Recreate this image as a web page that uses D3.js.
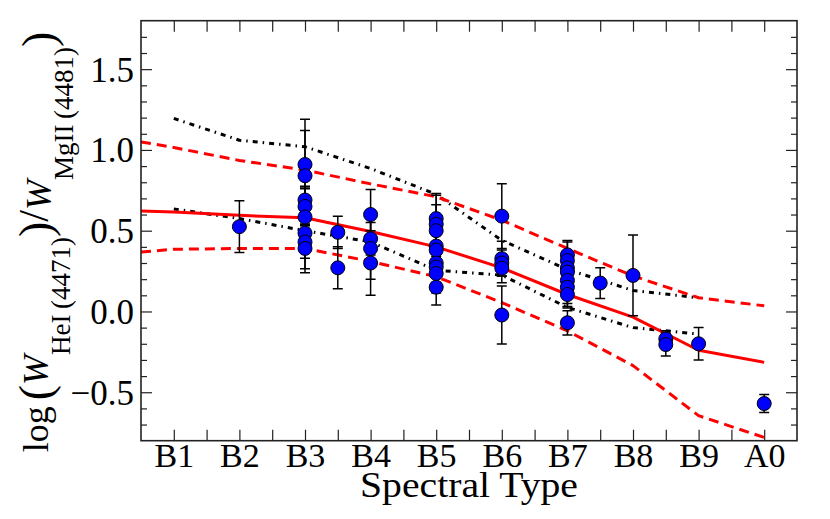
<!DOCTYPE html>
<html>
<head>
<meta charset="utf-8">
<script src="https://cdn.jsdelivr.net/npm/d3@7"></script>
<style>
  body { margin: 0; background: #fff; }
  svg text { font-family: "Liberation Serif", "DejaVu Serif", serif; fill: #000; }
</style>
</head>
<body>
<div id="chart"></div>
<script>
// spectral type axis: B1 = 1 ... A0 = 10
const typeTicks = [1, 2, 3, 4, 5, 6, 7, 8, 9, 10];
const typeLabels = ["B1", "B2", "B3", "B4", "B5", "B6", "B7", "B8", "B9", "A0"];
const logTicks = [-0.5, 0, 0.5, 1, 1.5];

// measured stars (type, log ratio, error)
const starType = [2,
  3, 3, 3, 3, 3, 3, 3, 3,
  3.5, 3.5,
  4, 4, 4, 4,
  5, 5, 5, 5, 5, 5, 5, 5, 5,
  6, 6, 6, 6, 6,
  7, 7, 7, 7, 7, 7, 7, 7,
  7.5, 8, 8.5, 8.5, 9, 10];
const starLog = [0.525,
  0.91, 0.84, 0.69, 0.65, 0.585, 0.485, 0.43, 0.39,
  0.49, 0.27,
  0.60, 0.45, 0.39, 0.30,
  0.575, 0.54, 0.50, 0.405, 0.38, 0.30, 0.275, 0.235, 0.15,
  0.59, 0.327, 0.30, 0.268, -0.022,
  0.35, 0.315, 0.27, 0.244, 0.192, 0.15, 0.105, -0.07,
  0.176, 0.223, -0.17, -0.205, -0.20, -0.57];
const starErr = [0.16,
  0.28, 0.28, 0.08, 0.11, 0.19, 0.22, 0.10, 0.15,
  0.10, 0.13,
  0.155, 0.10, 0.19, 0.20,
  0.155, 0.18, 0.16, 0.10, 0.12, 0.12, 0.10, 0.12, 0.11,
  0.20, 0.107, 0.08, 0.09, 0.18,
  0.09, 0.115, 0.10, 0.08, 0.17, 0.10, 0.075, 0.075,
  0.095, 0.25, 0.05, 0.07, 0.10, 0.056];

// model relation (red): mean and envelope
const modelType = [0.5, 1, 2, 3, 4, 5, 6, 7, 8, 9, 10];
const modelMid  = [0.622, 0.615, 0.595, 0.58, 0.495, 0.40, 0.27, 0.105, -0.035, -0.24, -0.315];
const modelHigh = [1.05, 1.015, 0.935, 0.875, 0.79, 0.71, 0.565, 0.39, 0.22, 0.085, 0.035];
const modelLow  = [0.368, 0.385, 0.39, 0.39, 0.31, 0.215, 0.055, -0.12, -0.335, -0.645, -0.78];

// fit envelope (black dash-dot)
const fitType = [1, 2, 3, 4, 5, 6, 7, 8, 9];
const fitHigh = [1.195, 1.06, 1.02, 0.885, 0.725, 0.44, 0.26, 0.13, 0.085];
const fitLow  = [0.635, 0.575, 0.50, 0.43, 0.255, 0.225, 0.025, -0.10, -0.14];

const W = 830, H = 519;
const pLeft = 141, pRight = 797, pTop = 20.7, pBottom = 440.7;

const svg = d3.select("#chart").append("svg")
  .attr("width", W).attr("height", H);

const x = d3.scaleLinear().domain([0.5, 10.5]).range([pLeft, pRight]);
const y = d3.scaleLinear().domain([-0.8, 1.8]).range([pBottom, pTop]);

svg.append("clipPath").attr("id", "plot-clip")
  .append("rect").attr("x", pLeft).attr("y", pTop)
  .attr("width", pRight - pLeft).attr("height", pBottom - pTop);

// ticks (inside, all four sides)
const halfTicks = d3.range(1.5, 10.5, 1);
const minorLog = d3.range(-7, 18).map(d => d / 10).filter(d => Math.round(d * 10) % 5 !== 0);

function tickAxis(axis, tr, keepText) {
  const g = svg.append("g").attr("transform", tr).call(axis);
  g.select(".domain").remove();
  g.selectAll(".tick line").attr("stroke", "#222").attr("stroke-width", 1.2);
  if (!keepText) g.selectAll(".tick text").remove();
  g.attr("font-family", null);
  return g;
}

const xb = tickAxis(d3.axisBottom(x).tickValues(typeTicks).tickFormat((d, i) => typeLabels[i])
  .tickSize(-11), `translate(0,${pBottom})`, true);
xb.selectAll("text")
  .attr("y", 26.5).attr("dy", 0)
  .style("font-size", "34px");
tickAxis(d3.axisBottom(x).tickValues(halfTicks).tickSize(-11), `translate(0,${pBottom})`);
tickAxis(d3.axisTop(x).tickValues(typeTicks.concat(halfTicks)).tickSize(-11), `translate(0,${pTop})`);

const yl = tickAxis(d3.axisLeft(y).tickValues(logTicks).tickFormat(d3.format(".1f"))
  .tickSize(-11), `translate(${pLeft},0)`, true);
yl.selectAll("text")
  .attr("x", -7).attr("dy", "0.34em")
  .style("font-size", "35px");
tickAxis(d3.axisLeft(y).tickValues(minorLog).tickSize(-6), `translate(${pLeft},0)`);
tickAxis(d3.axisRight(y).tickValues(logTicks).tickSize(-11), `translate(${pRight},0)`);
tickAxis(d3.axisRight(y).tickValues(minorLog).tickSize(-6), `translate(${pRight},0)`);

// curves
const plot = svg.append("g").attr("clip-path", "url(#plot-clip)");

function curve(xs, ys, color, dash) {
  const line = d3.line().x((d, i) => x(xs[i])).y(d => y(d));
  plot.append("path")
    .datum(ys)
    .attr("d", line)
    .attr("fill", "none")
    .attr("stroke", color)
    .attr("stroke-width", 3)
    .attr("stroke-dasharray", dash)
    .attr("stroke-linejoin", "round");
}

curve(fitType, fitHigh, "#000", "5,5,1.5,5");
curve(fitType, fitLow, "#000", "5,5,1.5,5");
curve(modelType, modelHigh, "#ff0000", "10,6");
curve(modelType, modelLow, "#ff0000", "10,6");
curve(modelType, modelMid, "#ff0000", null);

// error bars and points
const stars = starType.map((t, i) => ({ t: t, v: starLog[i], e: starErr[i] }));

const eb = plot.append("g").attr("stroke", "#000").attr("stroke-width", 1.5);
stars.forEach(d => {
  const cx = x(d.t);
  eb.append("line").attr("x1", cx).attr("x2", cx)
    .attr("y1", y(d.v - d.e)).attr("y2", y(d.v + d.e));
  [d.v - d.e, d.v + d.e].forEach(v => {
    eb.append("line").attr("x1", cx - 5).attr("x2", cx + 5)
      .attr("y1", y(v)).attr("y2", y(v));
  });
});

plot.selectAll(".star")
  .data(stars)
  .enter()
  .append("circle")
  .attr("class", "star")
  .attr("cx", d => x(d.t))
  .attr("cy", d => y(d.v))
  .attr("r", 7)
  .attr("fill", "#0000ff")
  .attr("stroke", "#000")
  .attr("stroke-width", 1);

// frame
svg.append("rect")
  .attr("x", pLeft).attr("y", pTop)
  .attr("width", pRight - pLeft).attr("height", pBottom - pTop)
  .attr("fill", "none").attr("stroke", "#222").attr("stroke-width", 1.6);

// axis titles
svg.append("text")
  .attr("x", (pLeft + pRight) / 2)
  .attr("y", 497)
  .attr("text-anchor", "middle")
  .attr("textLength", 218)
  .attr("lengthAdjust", "spacingAndGlyphs")
  .style("font-size", "36px")
  .text("Spectral Type");

const ylab = svg.append("text")
  .attr("transform", "translate(48,242) rotate(-90)")
  .attr("text-anchor", "middle")
  .style("font-size", "36px");
ylab.append("tspan").text("log");
ylab.append("tspan").attr("dx", 6).style("font-size", "46px").attr("dy", 3).text("(");
ylab.append("tspan").attr("dy", -3).style("font-style", "italic").text("W");
ylab.append("tspan").attr("dy", 22).style("font-size", "27px").text("HeI\u2009(4471)");
ylab.append("tspan").attr("dy", -19).style("font-size", "46px").text(")");
ylab.append("tspan").attr("dy", -3).style("font-size", "42px").text("/");
ylab.append("tspan").attr("dy", 3).style("font-style", "italic").text("W");
ylab.append("tspan").attr("dy", 22).style("font-size", "27px").text("MgII\u2009(4481)");
ylab.append("tspan").attr("dy", -19).style("font-size", "46px").text(")");
</script>
</body>
</html>
